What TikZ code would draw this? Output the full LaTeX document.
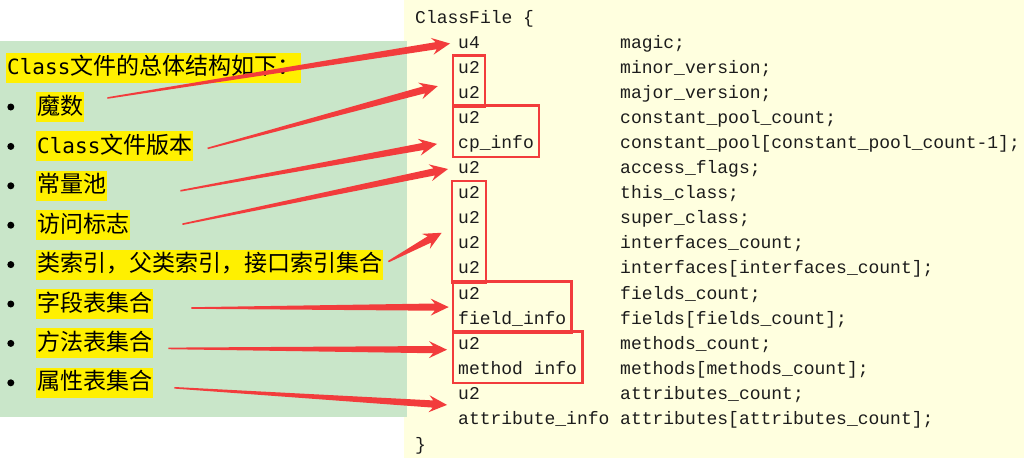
\documentclass[tikz,border=0pt]{standalone}
\usepackage{fontspec}
\usetikzlibrary{positioning,calc,fit}
\newfontfamily\cjkfont{Noto Sans CJK SC}
\newfontfamily\labelmono{DejaVu Sans Mono}
\newfontfamily\codemono{Liberation Mono}
\definecolor{cfpaper}{HTML}{FFFFDF}
\definecolor{cfgreen}{HTML}{C9E6C9}
\definecolor{cfmark}{HTML}{FFF000}
\definecolor{cfred}{HTML}{F23C3C}
\definecolor{cfink}{HTML}{1C1C1C}
\newcommand\cls{{\labelmono\fontsize{21}{25}\selectfont Class}}

% tapered red pointer from #1 to #2
\newcommand\pointer[2]{%
  \path ($(#2)!18pt!(#1)$) coordinate (pb) ($(#2)!14pt!(#1)$) coordinate (pn);
  \fill[cfred] ($(#1)!0.8pt!90:(#2)$) -- ($(pn)!3.6pt!90:(#2)$) -- ($(pb)!8.5pt!90:(#2)$)
    -- (#2) -- ($(pb)!8.5pt!-90:(#2)$) -- ($(pn)!3.6pt!-90:(#2)$)
    -- ($(#1)!0.8pt!-90:(#2)$) -- cycle;}

\begin{document}
\begin{tikzpicture}[
  x=1pt,y=-1pt,
  hilite/.style={fill=cfmark,anchor=west,inner xsep=1pt,inner ysep=0pt,minimum height=30pt,
               text height=18pt,text depth=4pt,font=\cjkfont\fontsize{23}{27}\selectfont},
  dot/.style={circle,fill=black,minimum size=7pt,inner sep=0pt},
  code/.style={anchor=west,inner sep=0pt,text height=13pt,text depth=4pt,text=cfink,
               font=\codemono\fontsize{18}{22}\selectfont},
  redbox/.style={draw=cfred,line width=2.6pt,inner xsep=5pt,inner ysep=4.5pt}
]
\useasboundingbox (0,0) rectangle (1024,458);
\fill[cfpaper] (404,0) rectangle (1024,458);
\fill[cfgreen] (0,41) rectangle (407,417);

% left list
\node[hilite] (title) at (6,67.5) {\cls 文件的总体结构如下：};
\node[hilite] (magic) at (36,107) {魔数};
\node[hilite,below=9pt of magic.south west,anchor=north west] (version) {\cls 文件版本};
\node[hilite,below=9pt of version.south west,anchor=north west] (pool) {常量池};
\node[hilite,below=9pt of pool.south west,anchor=north west] (access) {访问标志};
\node[hilite,below=9pt of access.south west,anchor=north west] (index) {类索引，父类索引，接口索引集合};
\node[hilite,below=9pt of index.south west,anchor=north west] (fields) {字段表集合};
\node[hilite,below=9pt of fields.south west,anchor=north west] (methods) {方法表集合};
\node[hilite,below=9pt of methods.south west,anchor=north west] (attrs) {属性表集合};

\node[dot,left=21.5pt of magic.west] (d1) {};
\node[dot,left=21.5pt of version.west] (d2) {};
\node[dot,left=21.5pt of pool.west] (d3) {};
\node[dot,left=21.5pt of access.west] (d4) {};
\node[dot,left=21.5pt of index.west] (d5) {};
\node[dot,left=21.5pt of fields.west] (d6) {};
\node[dot,left=21.5pt of methods.west] (d7) {};
\node[dot,left=21.5pt of attrs.west] (d8) {};

% ClassFile structure
\node[code] (head) at (415,18.5) {ClassFile \{};
\node[code] (ty1) at (458,43.5) {u4};
\node[code] (ty2) at (458,68.6) {u2};
\node[code] (ty3) at (458,93.7) {u2};
\node[code] (ty4) at (458,118.8) {u2};
\node[code] (ty5) at (458,143.9) {cp\_info};
\node[code] (ty6) at (458,169) {u2};
\node[code] (ty7) at (458,194.1) {u2};
\node[code] (ty8) at (458,219.2) {u2};
\node[code] (ty9) at (458,244.3) {u2};
\node[code] (ty10) at (458,269.4) {u2};
\node[code] (ty11) at (458,294.5) {u2};
\node[code] (ty12) at (458,319.6) {field\_info};
\node[code] (ty13) at (458,344.7) {u2};
\node[code] (ty14) at (458,369.8) {method info};
\node[code] (ty15) at (458,394.9) {u2};
\node[code] (ty16) at (458,420) {attribute\_info};
\node[code] (tail) at (415,445.5) {\}};

\node[code] (nm1) at (620,43.5) {magic;};
\node[code] (nm2) at (620,68.6) {minor\_version;};
\node[code] (nm3) at (620,93.7) {major\_version;};
\node[code] (nm4) at (620,118.8) {constant\_pool\_count;};
\node[code] (nm5) at (620,143.9) {constant\_pool[constant\_pool\_count-1];};
\node[code] (nm6) at (620,169) {access\_flags;};
\node[code] (nm7) at (620,194.1) {this\_class;};
\node[code] (nm8) at (620,219.2) {super\_class;};
\node[code] (nm9) at (620,244.3) {interfaces\_count;};
\node[code] (nm10) at (620,269.4) {interfaces[interfaces\_count];};
\node[code] (nm11) at (620,294.5) {fields\_count;};
\node[code] (nm12) at (620,319.6) {fields[fields\_count];};
\node[code] (nm13) at (620,344.7) {methods\_count;};
\node[code] (nm14) at (620,369.8) {methods[methods\_count];};
\node[code] (nm15) at (620,394.9) {attributes\_count;};
\node[code] (nm16) at (620,420) {attributes[attributes\_count];};

\node[redbox,fit=(ty2)(ty3)] (verbox) {};
\node[redbox,fit=(ty4)(ty5)] (cpbox) {};
\node[redbox,fit=(ty7)(ty10),inner xsep=6pt] (classbox) {};
\node[redbox,fit=(ty11)(ty12)] (fieldbox) {};
\node[redbox,fit=(ty13)(ty14)] (methodbox) {};

% pointer ends
\coordinate (s1) at ($(magic.east)+(23,-9)$);
\coordinate (s2) at ($(version.east)+(14,2)$);
\coordinate (s3) at ($(pool.east)+(73,5)$);
\coordinate (s4) at ($(access.east)+(52,-1)$);
\coordinate (s5) at ($(index.east)+(5,-3)$);
\coordinate (s6) at ($(fields.east)+(38,4)$);
\coordinate (s7) at ($(methods.east)+(15,5)$);
\coordinate (s8) at ($(attrs.east)+(21,5)$);
\coordinate (e1) at ($(ty1.west)+(-8,0)$);
\coordinate (e2) at ($(verbox.west)+(-14,5)$);
\coordinate (e3) at ($(ty5.west)+(-21,0)$);
\coordinate (e4) at ($(ty6.west)+(-10,0)$);
\coordinate (e5) at ($(classbox.west)+(-9,1)$);
\coordinate (e6) at ($(fieldbox.west)+(-3,0)$);
\coordinate (e7) at ($(ty13.west)+(-11,5)$);
\coordinate (e8) at ($(ty15.west)+(-11,10)$);

\pointer{s1}{e1}
\pointer{s2}{e2}
\pointer{s3}{e3}
\pointer{s4}{e4}
\pointer{s5}{e5}
\pointer{s6}{e6}
\pointer{s7}{e7}
\pointer{s8}{e8}
\end{tikzpicture}
\end{document}
